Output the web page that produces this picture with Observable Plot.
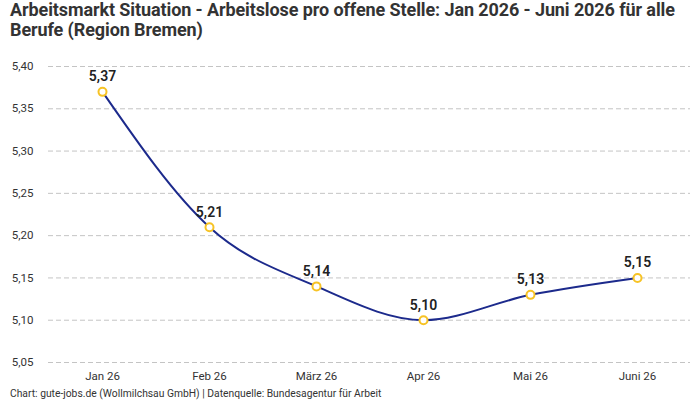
<!DOCTYPE html>
<html>
<head>
<meta charset="utf-8">
<script src="https://cdn.jsdelivr.net/npm/d3@7"></script>
<script src="https://cdn.jsdelivr.net/npm/@observablehq/plot@0.6"></script>
<style>
  body { margin: 0; background: #fff; font-family: Roboto, "Noto Sans", sans-serif; }
  #wrap { width: 700px; }
  h1 { margin: 0; padding: 0 10px 0 10px; font-size: 18px; line-height: 20px; font-weight: 700; color: #333; letter-spacing: -0.1px; }
  #chart svg { display: block; }
  .caption { font-size: 10.3px; color: #333; padding-left: 10px; margin-top: 0; line-height: 14px; }
</style>
</head>
<body>
<div id="wrap">
  <h1>Arbeitsmarkt Situation - Arbeitslose pro offene Stelle: Jan 2026 - Juni 2026 für alle Berufe (Region Bremen)</h1>
  <div id="chart"></div>
  <div class="caption">Chart: gute-jobs.de (Wollmilchsau GmbH) | Datenquelle: Bundesagentur für Arbeit</div>
</div>
<script>
// Monatsreihe: Arbeitslose pro offene Stelle
const months = ["Jan 26", "Feb 26", "März 26", "Apr 26", "Mai 26", "Juni 26"];
const values = [5.37, 5.21, 5.14, 5.10, 5.13, 5.15];
const yTicks = [5.05, 5.10, 5.15, 5.20, 5.25, 5.30, 5.35, 5.40];

const data = months.map((m, i) => ({month: m, value: values[i]}));
const comma = d => d.toFixed(2).replace(".", ",");

const chart = Plot.plot({
  width: 700,
  height: 347,
  marginTop: 26,
  marginBottom: 25,
  marginLeft: 48,
  marginRight: 10,
  style: {fontFamily: "Roboto, 'Noto Sans', sans-serif", fontSize: "11.5px", color: "#333"},
  x: {type: "point", domain: months, padding: 0.5, label: null, tickSize: 0, tickPadding: 9},
  y: {domain: [5.05, 5.40], ticks: yTicks, tickFormat: comma, label: null, tickSize: 0, tickPadding: 15},
  marks: [
    Plot.gridY(yTicks, {stroke: "#c4c4c4", strokeOpacity: 1, strokeDasharray: "5,3"}),
    Plot.line(data, {x: "month", y: "value", stroke: "#1c2a8c", strokeWidth: 2, curve: "monotone-x"}),
    Plot.dot(data, {x: "month", y: "value", r: 4, fill: "white", stroke: "#f7c325", strokeWidth: 2}),
    Plot.text(data, {x: "month", y: "value", text: d => comma(d.value), dy: -15, fontSize: 14, fontWeight: 600, fill: "#222"})
  ]
});
document.getElementById("chart").appendChild(chart);
</script>
</body>
</html>
